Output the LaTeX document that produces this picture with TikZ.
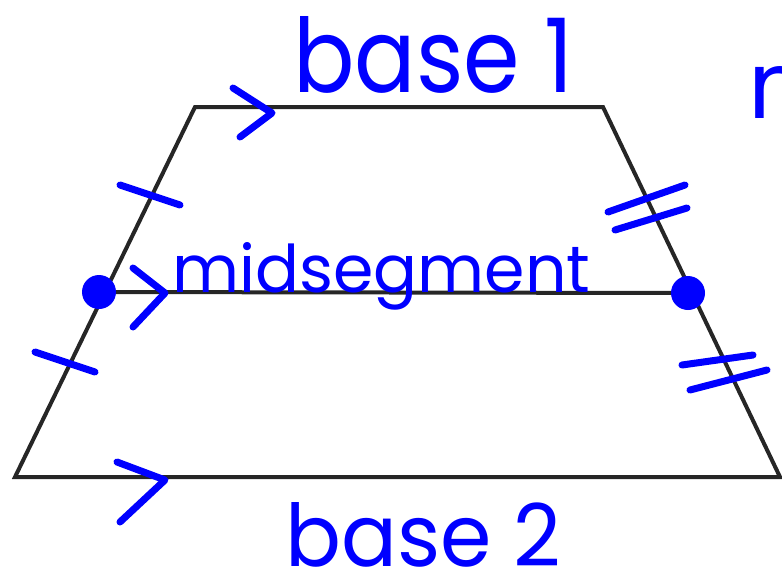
\documentclass[tikz,border=0pt]{standalone}
\usepackage{fontspec}
\setmainfont{Poppins}
\begin{document}
\begin{tikzpicture}[x=0.5pt,y=-0.5pt,
  edge/.style={black!85,line width=2pt},
  pen/.style={draw=penblue,line width=3.5pt,line cap=round,line join=round},
  lbl/.style={text=penblue,inner sep=0pt,anchor=base west}]
\definecolor{penblue}{RGB}{0,0,255}
\useasboundingbox (0,0) rectangle (782,574);
% trapezoid
\coordinate (TL) at (195,107);
\coordinate (TR) at (603,107);
\coordinate (BR) at (780,477);
\coordinate (BL) at (15,477);
\coordinate (ML) at (99,292);
\coordinate (MR) at (688,293);
\draw[edge] (BL) -- (TL) -- (TR) -- (BR) -- cycle;
\draw[edge] (ML) -- (MR);
% midpoints
\fill[penblue] (ML) circle (17);
\fill[penblue] (MR) circle (17);
% labels
\node[lbl] (b1) at (293,92) {\resizebox{140pt}{38pt}{base 1}};
\node[lbl] (mid) at (172,292) {\resizebox{209pt}{25pt}{midsegment}};
\node[lbl] (b2) at (285,566) {\resizebox{138pt}{32pt}{base 2}};
\node[lbl] (m) at (748,118) {\resizebox{!}{26pt}{m}};
% parallel chevrons
\draw[pen] (233,88) -- (272,113) -- (240,137);
\draw[pen] (133,268) -- (165,293) -- (133,327);
\draw[pen] (117,462) -- (165,480) -- (120,522);
% single ticks
\draw[pen] (120,185) -- (180,205);
\draw[pen] (35,352) -- (95,372);
% double ticks
\draw[pen] (608,212) -- (685,185);
\draw[pen] (615,230) -- (687,208);
\draw[pen] (682,365) -- (753,355);
\draw[pen] (690,390) -- (767,370);
\end{tikzpicture}
\end{document}
